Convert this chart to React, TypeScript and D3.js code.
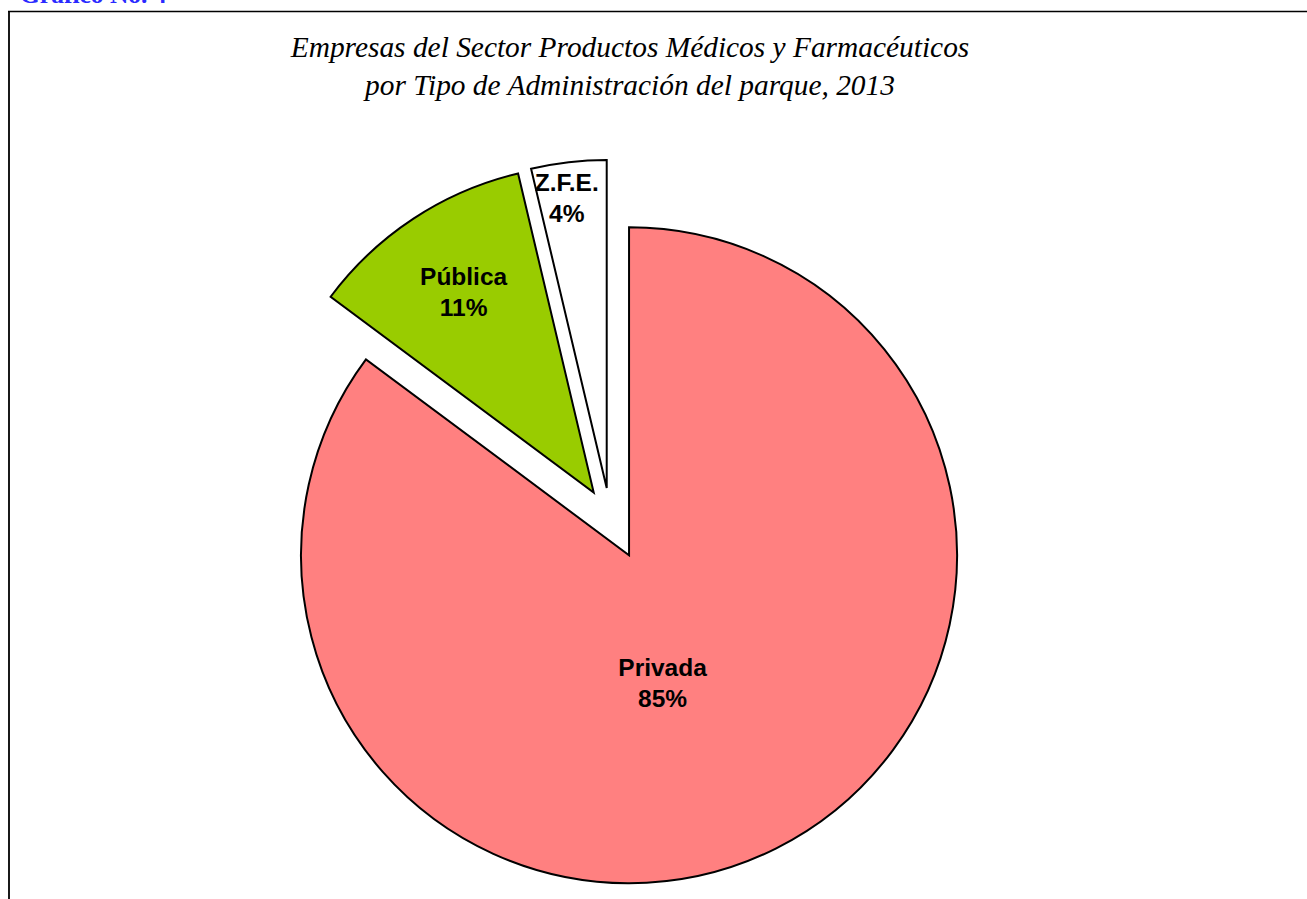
import React from "react";
import * as d3 from "d3";

const categories = ["Privada", "Pública", "Z.F.E."];
const values = [23, 3, 1];
const percentLabels = ["85%", "11%", "4%"];
const sliceColors = ["#FF8080", "#99CC00", "#FFFFFF"];

const titleLines = [
  "Empresas del Sector Productos Médicos y Farmacéuticos",
  "por Tipo de Administración del parque, 2013",
];
const headerText = "Gráfico No. 4";

// layout
const W = 1307;
const H = 899;
const CX = 610.2;
const CY = 517.7;
const R = 328;
const explode = [42, 30, 30];
const labelDist = [125.6, 245.3, 299.7];
const labelAngleShiftDeg = [11.2, 1.3, -1.0];

export default function App() {
  const pie = d3
    .pie<number>()
    .sort(null)
    .startAngle(0)
    .endAngle(2 * Math.PI)(values);
  const arc = d3.arc<d3.PieArcDatum<number>>().innerRadius(0).outerRadius(R);

  return (
    <svg
      width={W}
      height={H}
      style={{ position: "absolute", left: 0, top: 0, display: "block" }}
    >
      <rect x={0} y={0} width={W} height={H} fill="#fff" />
      <text
        x={20}
        y={3}
        fontFamily="'Liberation Serif', 'Times New Roman', serif"
        fontWeight="bold"
        fontSize={25.5}
        fill="#2a2aff"
      >
        {headerText}
      </text>
      <path d={`M8,11.5 H${W}`} stroke="#000" strokeWidth={1.6} fill="none" />
      <path d={`M9,11 V${H}`} stroke="#000" strokeWidth={1.8} fill="none" />
      {titleLines.map((t, i) => (
        <text
          key={i}
          x={630}
          y={57 + i * 38}
          textAnchor="middle"
          fontFamily="'Liberation Serif', 'Times New Roman', serif"
          fontStyle="italic"
          fontSize={29.4}
          fill="#000"
        >
          {t}
        </text>
      ))}
      {pie.map((d, i) => {
        const mid = (d.startAngle + d.endAngle) / 2;
        const ox = CX + explode[i] * Math.sin(mid);
        const oy = CY - explode[i] * Math.cos(mid);
        const la = mid + (labelAngleShiftDeg[i] * Math.PI) / 180;
        const lx = labelDist[i] * Math.sin(la);
        const ly = -labelDist[i] * Math.cos(la);
        return (
          <g key={categories[i]} transform={`translate(${ox},${oy})`}>
            <path
              d={arc(d) || ""}
              fill={sliceColors[i]}
              stroke="#000"
              strokeWidth={2}
              strokeLinejoin="miter"
            />
            <text
              x={lx}
              y={ly}
              textAnchor="middle"
              fontFamily="'Liberation Sans', Arial, sans-serif"
              fontWeight="bold"
              fontSize={24.5}
              fill="#000"
            >
              <tspan x={lx} y={ly}>
                {categories[i]}
              </tspan>
              <tspan x={lx} y={ly + 31}>
                {percentLabels[i]}
              </tspan>
            </text>
          </g>
        );
      })}
    </svg>
  );
}
